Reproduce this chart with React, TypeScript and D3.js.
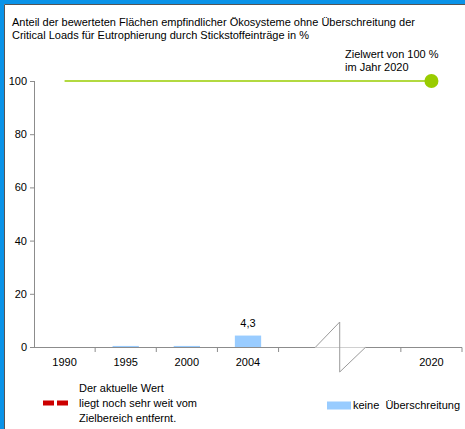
import React from "react";
import * as d3 from "d3";

// categories on the x axis (two blank slots stand for the axis break)
const categories = ["1990", "1995", "2000", "2004", "gap1", "gap2", "2020"];
const categoryLabels = ["1990", "1995", "2000", "2004", "", "", "2020"];
// share of areas without exceedance, in %
const barValues: (number | null)[] = [null, 0.4, 0.4, 4.3, null, null, null];
const labelled = ["2004"];
// target line
const targetYears = ["1990", "2020"];
const targetValue = 100;
const yTicks = [0, 20, 40, 60, 80, 100];

const titleLines = [
  "Anteil der bewerteten Flächen empfindlicher Ökosysteme ohne Überschreitung der",
  "Critical Loads für Eutrophierung durch Stickstoffeinträge in %",
];
const targetNote = ["Zielwert von 100 %", "im Jahr 2020"];
const statusNote = ["Der aktuelle Wert", "liegt noch sehr weit vom", "Zielbereich entfernt."];
const barLegend = "keine  Überschreitung";

const W = 465;
const H = 429;
const font = "'Liberation Sans', Arial, sans-serif";
const axisColor = "#8c8c8c";

export default function App() {
  const x = d3
    .scaleBand<string>()
    .domain(categories)
    .range([34, 462])
    .paddingInner(0.57)
    .paddingOuter(0.285);
  const step = x.step();
  const y = d3.scaleLinear([0, 100], [347, 81]);
  const cx = (c: string) => (x(c) ?? 0) + x.bandwidth() / 2;

  const line = d3
    .line<string>()
    .x((d) => cx(d))
    .y(() => y(targetValue));

  // boundaries between categories for the x ticks
  const bounds = d3.range(1, categories.length + 1).map((i) => 34 + i * step);
  const breakStart = cx("gap1") + 6;
  const breakMid = 34 + 5 * step;
  const breakEnd = cx("gap2") - 5;

  return (
    <svg
      width={W}
      height={H}
      style={{ position: "absolute", left: 0, top: 0, background: "#fff" }}
      fontFamily={font}
    >
      {/* frame */}
      <rect x={0} y={0} width={W} height={4} fill="#0a93e8" />
      <rect x={0} y={0} width={4} height={H} fill="#0a93e8" />
      <line x1={4.5} y1={4.5} x2={W} y2={4.5} stroke="#555" strokeWidth={1} />
      <line x1={4.5} y1={4.5} x2={4.5} y2={H} stroke="#555" strokeWidth={1} />

      {titleLines.map((t, i) => (
        <text key={t} x={12} y={26 + i * 12.5} fontSize={11} fill="#000">
          {t}
        </text>
      ))}

      {/* y axis */}
      <line x1={34.5} x2={34.5} y1={y(100)} y2={y(0)} stroke={axisColor} />
      {yTicks.map((t) => (
        <g key={t}>
          <line x1={30} x2={34.5} y1={y(t) + 0.5} y2={y(t) + 0.5} stroke={axisColor} />
          <text x={27} y={y(t) + 4} fontSize={11} textAnchor="end" fill="#000">
            {t}
          </text>
        </g>
      ))}

      {/* bars */}
      {categories.map((c, i) =>
        barValues[i] == null ? null : (
          <rect
            key={c}
            x={x(c)}
            y={y(barValues[i] as number)}
            width={x.bandwidth()}
            height={y(0) - y(barValues[i] as number)}
            fill="#99ccff"
          />
        )
      )}
      {categories.map((c, i) =>
        labelled.includes(c) ? (
          <text
            key={"l" + c}
            x={cx(c)}
            y={y(barValues[i] as number) - 9}
            fontSize={11}
            textAnchor="middle"
            fill="#000"
          >
            {(barValues[i] as number).toString().replace(".", ",")}
          </text>
        ) : null
      )}

      {/* x axis */}
      <line x1={34} x2={breakStart} y1={347.5} y2={347.5} stroke={axisColor} />
      <line x1={breakStart} x2={breakEnd} y1={347.5} y2={347.5} stroke="#d0d0d0" />
      <line x1={breakEnd} x2={462} y1={347.5} y2={347.5} stroke={axisColor} />
      {bounds.map((b, i) =>
        i === 4 ? null : (
          <line key={i} x1={b} x2={b} y1={347.5} y2={352} stroke={axisColor} />
        )
      )}
      {categories.map((c, i) => (
        <text key={"x" + c} x={cx(c)} y={366} fontSize={11} textAnchor="middle" fill="#000">
          {categoryLabels[i]}
        </text>
      ))}
      {/* axis break */}
      <polyline
        points={`${breakStart},347.5 ${breakMid},322 ${breakMid},372 ${breakEnd},347.5`}
        fill="none"
        stroke="#9a9a9a"
        strokeWidth={1}
      />

      {/* target */}
      <path d={line(targetYears) ?? ""} stroke="#99cc00" strokeWidth={1.5} fill="none" />
      <circle cx={cx("2020")} cy={y(targetValue)} r={7} fill="#99cc00" />
      {targetNote.map((t, i) => (
        <text key={t} x={345} y={57.5 + i * 13} fontSize={11} fill="#000">
          {t}
        </text>
      ))}

      {/* legends */}
      <rect x={43} y={400.5} width={11} height={5} fill="#cc0000" />
      <rect x={57} y={400.5} width={11} height={5} fill="#cc0000" />
      {statusNote.map((t, i) => (
        <text key={t} x={79} y={392 + i * 14.8} fontSize={11} fill="#000">
          {t}
        </text>
      ))}
      <rect x={327} y={401.5} width={24} height={8} fill="#99ccff" />
      <text x={353} y={409} fontSize={11} fill="#000" style={{ whiteSpace: "pre" }}>
        {barLegend}
      </text>
    </svg>
  );
}
